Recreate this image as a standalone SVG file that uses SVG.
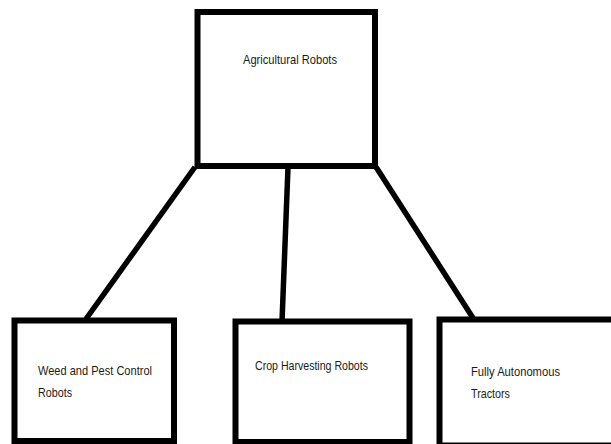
<svg xmlns="http://www.w3.org/2000/svg" width="611" height="444" viewBox="0 0 611 444">
  <style>
    .box { fill: #ffffff; stroke: #000000; stroke-width: 6; }
    .conn { stroke: #000000; stroke-width: 5.5; fill: none; stroke-linecap: butt; }
    .lbl { font-family: "Liberation Sans", Arial, sans-serif; font-size: 13.5px; fill: #1a1a1a; }
  </style>
  <rect x="0" y="0" width="611" height="444" fill="#ffffff"/>
  <g id="connectors">
    <line class="conn" x1="195" y1="167" x2="86" y2="319"/>
    <line class="conn" x1="288" y1="167" x2="282" y2="322"/>
    <line class="conn" x1="376" y1="167" x2="473" y2="318"/>
  </g>
  <g id="node-agricultural-robots">
    <rect class="box" x="197.5" y="12" width="177.5" height="154"/>
    <text class="lbl" x="243" y="64" textLength="94" lengthAdjust="spacingAndGlyphs">Agricultural Robots</text>
  </g>
  <g id="node-weed-pest">
    <rect class="box" x="14.5" y="320.5" width="159.5" height="120.5"/>
    <text class="lbl" x="38" y="375" textLength="114" lengthAdjust="spacingAndGlyphs">Weed and Pest Control</text>
    <text class="lbl" x="38" y="397" textLength="34" lengthAdjust="spacingAndGlyphs">Robots</text>
  </g>
  <g id="node-crop-harvesting">
    <rect class="box" x="235.5" y="321.5" width="174" height="120.5"/>
    <text class="lbl" x="255" y="370" textLength="113" lengthAdjust="spacingAndGlyphs">Crop Harvesting Robots</text>
  </g>
  <g id="node-autonomous-tractors">
    <rect class="box" x="439.5" y="319.5" width="176" height="126"/>
    <text class="lbl" x="471" y="376" textLength="89" lengthAdjust="spacingAndGlyphs">Fully Autonomous</text>
    <text class="lbl" x="471" y="398" textLength="39" lengthAdjust="spacingAndGlyphs">Tractors</text>
  </g>
</svg>
